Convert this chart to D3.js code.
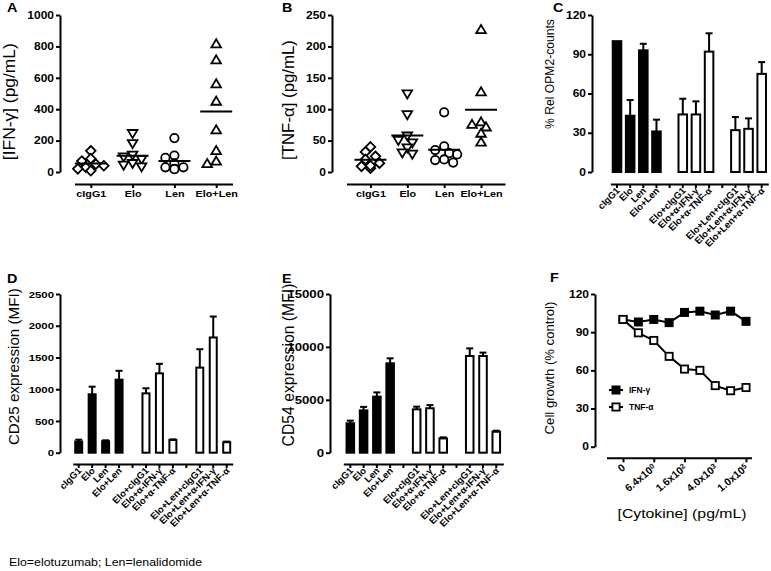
<!DOCTYPE html>
<html><head><meta charset="utf-8">
<script src="https://cdn.jsdelivr.net/npm/d3@7"></script>
<style>
body{margin:0;background:#fff}
svg{display:block}
text{font-family:"Liberation Sans",Arial,Helvetica,sans-serif;fill:#000}
</style>
</head><body>
<svg id="c" width="771" height="571"></svg>
<script>
// ---------------- DATA ----------------
const scatterGroups = ["cIgG1", "Elo", "Len", "Elo+Len"];
// Panel A: IFN-gamma (pg/mL), one value per donor
const ifnCIgG1  = [135, 85, 70, 50, 30, 20, 8, 40];
const ifnElo    = [244, 180, 106, 95, 79, 53, 42, 32];
const ifnLen    = [216, 105, 90, 55, 30, 20, 18, 30];
const ifnEloLen = [817, 715, 563, 452, 270, 138, 70, 55];
const ifnTicks  = [0, 200, 400, 600, 800, 1000];
// Panel B: TNF-alpha (pg/mL)
const tnfCIgG1  = [40, 32, 25, 20, 14, 9, 6, 10];
const tnfElo    = [124, 91, 57, 50, 46, 38, 30, 28];
const tnfLen    = [95, 41, 35, 30, 28, 20, 19, 15];
const tnfEloLen = [227, 128, 80, 76, 72, 62, 48];
const tnfTicks  = [0, 50, 100, 150, 200, 250];

// Bar panels C, D, E (mean, upper error)
const barKeys   = ["cIgG1","Elo","Len","Elo+Len","gap1","Elo+cIgG1","Elo+α-IFN-γ","Elo+α-TNF-α","gap2","Elo+Len+cIgG1","Elo+Len+α-IFN-γ","Elo+Len+α-TNF-α"];
const barLabels = ["cIgG1","Elo","Len","Elo+Len","","Elo+cIgG1","Elo+α-IFN-γ","Elo+α-TNF-α","","Elo+Len+cIgG1","Elo+Len+α-IFN-γ","Elo+Len+α-TNF-α"];
const barSet    = ["base","base","base","base",null,"elo","elo","elo",null,"eloLen","eloLen","eloLen"];
const opmMean   = [100, 43, 93, 31, null, 44, 44, 92, null, 32, 33, 75];
const opmErr    = [0, 12, 5, 9, null, 12, 10, 14, null, 10, 8, 9];
const opmTicks  = [0, 30, 60, 90, 120];
const cd25Mean  = [175, 920, 180, 1150, null, 935, 1250, 200, null, 1340, 1815, 165];
const cd25Err   = [30, 120, 15, 140, null, 80, 150, 10, null, 290, 330, 10];
const cd25Ticks = [0, 500, 1000, 1500, 2000, 2500];
const cd54Mean  = [2780, 4000, 5300, 8450, null, 4100, 4200, 1350, null, 9140, 9140, 1980];
const cd54Err   = [250, 330, 400, 470, null, 250, 300, 100, null, 720, 320, 100];
const cd54Ticks = [0, 5000, 10000, 15000];

// Panel F: cell growth (% control) vs cytokine concentration (pg/mL)
const concKeys   = ["0", "1.28", "6.4", "32", "160", "800", "4000", "20000", "100000"];
const ifnGrowth  = [100, 98, 100, 97.5, 105.5, 106.5, 103.5, 106.5, 98.5];
const tnfGrowth  = [100, 89.5, 83.5, 71, 61, 60, 48, 44, 46.5];
const concTickKeys = ["0", "6.4", "160", "4000", "100000"];
const concTickBase = ["0", "6.4x10", "1.6x10", "4.0x10", "1.0x10"];
const concTickExp  = ["", "0", "2", "3", "5"];
const growthTicks  = [0, 30, 60, 90, 120];
const legendNames  = ["IFN-γ", "TNF-α"];

// ---------------- DRAWING ----------------
const svg = d3.select("#c");
const SX = 1.2;

function addText(g, x, y, s, o = {}) {
  const sx = o.sx ?? SX;
  const t = g.append("text")
    .attr("transform", `translate(${x},${y}) scale(${sx},1) rotate(${o.rot || 0})`)
    .attr("font-size", o.size || 10)
    .attr("font-weight", o.weight || "bold")
    .attr("text-anchor", o.anchor || "start");
  if (o.dy) t.attr("dy", o.dy);
  t.text(s);
  if (o.fit) {
    const len = t.node().getComputedTextLength();
    const target = (o.rot ? o.fit : o.fit / sx);
    t.attr("font-size", (o.size || 10) * target / len);
  }
  return t;
}

function styleAxis(a, fs) {
  a.attr("font-family", null).attr("font-size", fs).attr("font-weight", "bold");
  a.select(".domain").attr("stroke-width", 2).attr("stroke", "#000");
  a.selectAll(".tick line").attr("stroke-width", 2).attr("stroke", "#000");
}

function stretchTexts(a) {
  a.selectAll(".tick text").each(function () {
    const t = d3.select(this);
    const x = +t.attr("x") || 0, y = +t.attr("y") || 0;
    t.attr("x", 0).attr("y", 0).attr("transform", `translate(${x},${y}) scale(${SX},1)`);
  });
}

function yAxis(g, y, x, ticks, fs) {
  const a = g.append("g").attr("transform", `translate(${x},0)`)
    .call(d3.axisLeft(y).tickValues(ticks).tickSize(4).tickSizeOuter(0).tickPadding(2).tickFormat(d3.format("d")));
  styleAxis(a, fs);
  stretchTexts(a);
  return a;
}

const markerShapes = ["diamond", "triDown", "circle", "triUp"];
function shapePath(type) {
  if (type === "diamond") return "M0,-4.8L4.8,0L0,4.8L-4.8,0Z";
  if (type === "triUp") return "M0,-4.4L4.8,3.7L-4.8,3.7Z";
  if (type === "triDown") return "M0,4.4L4.8,-3.7L-4.8,-3.7Z";
  return "";
}

function dodge(vals, y, minD) {
  const order = d3.range(vals.length).sort((a, b) => vals[b] - vals[a]);
  const placed = [], off = new Array(vals.length).fill(0);
  const cands = [0, -5, 5, -9, 9, -13, 13];
  for (const i of order) {
    const yi = y(vals[i]);
    for (const c of cands) {
      if (placed.every(p => Math.hypot(p.x - c, p.y - yi) >= minD)) {
        off[i] = c; placed.push({ x: c, y: yi }); break;
      }
    }
  }
  return off;
}

function scatterPanel(cfg) {
  const g = svg.append("g");
  const y = d3.scaleLinear().domain([0, d3.max(cfg.ticks)]).range(cfg.yRange);
  const x = d3.scalePoint().domain(scatterGroups).range(cfg.xRange).padding(cfg.xPad);
  yAxis(g, y, cfg.yAxisX, cfg.ticks, cfg.tickFs);
  const xa = g.append("g").attr("transform", `translate(0,${cfg.xAxisY})`)
    .call(d3.axisBottom(x).tickSize(4).tickSizeOuter(0).tickPadding(3));
  styleAxis(xa, cfg.xFs);
  stretchTexts(xa);
  cfg.series.forEach((vals, gi) => {
    const cx = x(scatterGroups[gi]);
    const offs = dodge(vals, y, 7);
    const shape = markerShapes[gi];
    vals.forEach((v, i) => {
      if (shape === "circle") {
        g.append("circle").attr("cx", cx + offs[i]).attr("cy", y(v)).attr("r", 4.2)
          .attr("fill", "#fff").attr("stroke", "#000").attr("stroke-width", 1.8);
      } else {
        g.append("path").attr("d", shapePath(shape)).attr("transform", `translate(${cx + offs[i]},${y(v)})`)
          .attr("fill", "#fff").attr("stroke", "#000").attr("stroke-width", 1.8).attr("stroke-linejoin", "miter");
      }
    });
    const m = d3.mean(vals);
    g.append("line").attr("x1", cx - 16).attr("x2", cx + 16).attr("y1", y(m)).attr("y2", y(m))
      .attr("stroke", "#000").attr("stroke-width", 2);
  });
  addText(g, cfg.titleX, cfg.titleY, cfg.title, { rot: -90, anchor: "middle", weight: "normal", sx: 1, size: 14, fit: cfg.titleLen });
  addText(g, cfg.letterX, cfg.letterY, cfg.letter, { size: 12 });
}

function barPanel(cfg) {
  const g = svg.append("g");
  const y = d3.scaleLinear().domain([0, d3.max(cfg.ticks)]).range(cfg.yRange);
  const x = d3.scaleBand().domain(barKeys).range(cfg.xRange).paddingInner(cfg.pIn).paddingOuter(cfg.pOut);
  yAxis(g, y, cfg.yAxisX, cfg.ticks, cfg.tickFs);
  const xa = g.append("g").attr("transform", `translate(0,${cfg.xAxisY})`)
    .call(d3.axisBottom(x).tickSize(4).tickSizeOuter(0).tickFormat((d, i) => barLabels[i]));
  styleAxis(xa, cfg.xFs);
  xa.selectAll(".tick text").attr("x", 0).attr("y", 0).attr("dy", "0.35em")
    .attr("text-anchor", "end")
    .attr("transform", `translate(1,${cfg.labelDy}) rotate(-45)`);
  barKeys.forEach((k, i) => {
    const v = cfg.means[i];
    if (v == null) return;
    const bx = x(k), bw = x.bandwidth(), cx = bx + bw / 2;
    const e = cfg.errs[i];
    if (e > 0) {
      g.append("line").attr("x1", cx).attr("x2", cx).attr("y1", y(v)).attr("y2", y(v + e))
        .attr("stroke", "#000").attr("stroke-width", 2);
      g.append("line").attr("x1", cx - 3.5).attr("x2", cx + 3.5).attr("y1", y(v + e)).attr("y2", y(v + e))
        .attr("stroke", "#000").attr("stroke-width", 2);
    }
    g.append("rect").attr("x", bx).attr("width", bw).attr("y", y(v)).attr("height", y(0) - y(v))
      .attr("fill", barSet[i] === "base" ? "#000" : "#fff").attr("stroke", "#000").attr("stroke-width", 2);
  });
  addText(g, cfg.titleX, cfg.titleY, cfg.title, { rot: -90, anchor: "middle", weight: "normal", sx: 1, size: 14, fit: cfg.titleLen });
  addText(g, cfg.letterX, cfg.letterY, cfg.letter, { size: 12 });
}

// Panel A
scatterPanel({
  series: [ifnCIgG1, ifnElo, ifnLen, ifnEloLen], ticks: ifnTicks,
  yRange: [172, 15], yAxisX: 60, xRange: [74.5, 232.5], xPad: 0.39, xAxisY: 184,
  tickFs: 10, xFs: 9, title: "[IFN-γ] (pg/mL)", titleX: 15, titleY: 101.7, titleLen: 117,
  letter: "A", letterX: 7, letterY: 12
});
// Panel B
scatterPanel({
  series: [tnfCIgG1, tnfElo, tnfLen, tnfEloLen], ticks: tnfTicks,
  yRange: [172, 15], yAxisX: 332, xRange: [346.5, 505], xPad: 0.65, xAxisY: 184,
  tickFs: 10, xFs: 9, title: "[TNF-α] (pg/mL)", titleX: 294, titleY: 100, titleLen: 120,
  letter: "B", letterX: 282, letterY: 12
});
// Panel C
barPanel({
  means: opmMean, errs: opmErr, ticks: opmTicks,
  yRange: [172, 15], yAxisX: 592, xRange: [610.4, 768.3], pIn: 0.35, pOut: 0.177, xAxisY: 184,
  tickFs: 10, xFs: 9.5, labelDy: 5, title: "% Rel OPM2-counts", titleX: 554, titleY: 74, titleLen: 110,
  letter: "C", letterX: 553, letterY: 12
});
// Panel D
barPanel({
  means: cd25Mean, errs: cd25Err, ticks: cd25Ticks,
  yRange: [452.7, 294], yAxisX: 60, xRange: [72.7, 232.7], pIn: 0.48, pOut: 0.186, xAxisY: 464,
  tickFs: 9.5, xFs: 9.5, labelDy: 5, title: "CD25 expression (MFI)", titleX: 19, titleY: 366.7, titleLen: 157,
  letter: "D", letterX: 7, letterY: 283
});
// Panel E
barPanel({
  means: cd54Mean, errs: cd54Err, ticks: cd54Ticks,
  yRange: [452.7, 294], yAxisX: 330, xRange: [343.3, 503.3], pIn: 0.43, pOut: 0.245, xAxisY: 464,
  tickFs: 11, xFs: 9.5, labelDy: 5, title: "CD54 expression (MFI)", titleX: 294, titleY: 365, titleLen: 163,
  letter: "E", letterX: 282, letterY: 283
});

// Panel F
(function () {
  const g = svg.append("g");
  const y = d3.scaleLinear().domain([0, d3.max(growthTicks)]).range([446.7, 294]);
  const x = d3.scalePoint().domain(concKeys).range([623, 746]);
  yAxis(g, y, 595, growthTicks, 10);
  const xa = g.append("g").attr("transform", "translate(0,458.3)")
    .call(d3.axisBottom(x).tickValues(concTickKeys).tickSize(4).tickSizeOuter(0).tickFormat(() => ""));
  styleAxis(xa, 9);
  xa.select(".domain").attr("d", `M${x.range()[0] - 16},0H${x.range()[1] + 6}`);
  concTickKeys.forEach((k, i) => {
    const t = addText(g, x(k) + 0.5, 466, concTickBase[i], { rot: -40, sx: 1, anchor: "end", size: 10.5, dy: "0.35em" });
    if (concTickExp[i]) t.append("tspan").attr("dy", "-0.35em").attr("font-size", 7.5).text(concTickExp[i]);
  });
  const line = d3.line().x((d, i) => x(concKeys[i])).y(d => y(d));
  [[ifnGrowth, "#000"], [tnfGrowth, "#fff"]].forEach(([vals, fill]) => {
    g.append("path").attr("d", line(vals)).attr("fill", "none").attr("stroke", "#000").attr("stroke-width", 2);
    vals.forEach((v, i) => {
      g.append("rect").attr("x", x(concKeys[i]) - 3.6).attr("y", y(v) - 3.6).attr("width", 7.2).attr("height", 7.2)
        .attr("fill", fill).attr("stroke", "#000").attr("stroke-width", 1.8);
    });
  });
  // legend
  legendNames.forEach((name, i) => {
    const ly = 390 + i * 17;
    g.append("line").attr("x1", 609).attr("x2", 623).attr("y1", ly).attr("y2", ly).attr("stroke", "#000").attr("stroke-width", 2);
    g.append("rect").attr("x", 612.4).attr("y", ly - 3.6).attr("width", 7.2).attr("height", 7.2)
      .attr("fill", i === 0 ? "#000" : "#fff").attr("stroke", "#000").attr("stroke-width", 1.8);
    addText(g, 629, ly, name, { size: 8.5, sx: 1, dy: "0.35em", weight: "bold" });
  });
  addText(g, 682, 518, "[Cytokine] (pg/mL)", { anchor: "middle", weight: "normal", size: 13, fit: 129 });
  addText(g, 554, 368, "Cell growth (% control)", { rot: -90, sx: 1, anchor: "middle", weight: "normal", size: 13, fit: 133 });
  addText(g, 550, 282, "F", { size: 12 });
})();

// footer
addText(svg, 9, 566, "Elo=elotuzumab; Len=lenalidomide", { weight: "normal", size: 10, fit: 193 });
</script>
</body></html>
